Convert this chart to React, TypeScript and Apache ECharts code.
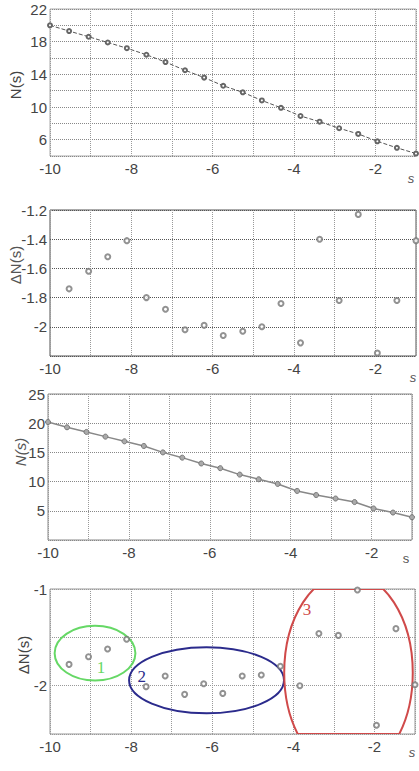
import React, { useEffect, useRef } from 'react';
import * as echarts from 'echarts';

// s positions (20 samples from -10 to -1)
const sAll = [-10, -9.53, -9.05, -8.58, -8.11, -7.63, -7.16, -6.68, -6.21, -5.74, -5.26, -4.79, -4.32, -3.84, -3.37, -2.89, -2.42, -1.95, -1.47, -1.0];
const sDelta = [-9.53, -9.05, -8.58, -8.11, -7.63, -7.16, -6.68, -6.21, -5.74, -5.26, -4.79, -4.32, -3.84, -3.37, -2.89, -2.42, -1.95, -1.47, -1.0];

// Panel 1: N(s)
const n1 = [20.0, 19.3, 18.6, 17.9, 17.2, 16.4, 15.5, 14.5, 13.6, 12.6, 11.8, 10.8, 9.9, 8.9, 8.2, 7.4, 6.7, 5.8, 5.0, 4.3];
// Panel 2: ΔN(s)
const d2 = [-1.74, -1.62, -1.52, -1.41, -1.80, -1.88, -2.02, -1.99, -2.06, -2.03, -2.0, -1.84, -2.11, -1.40, -1.82, -1.23, -2.18, -1.82, -1.41];
// Panel 3: N(s)
const n3 = [20.2, 19.3, 18.5, 17.7, 16.9, 16.1, 15.0, 14.1, 13.1, 12.3, 11.2, 10.4, 9.6, 8.4, 7.7, 7.1, 6.5, 5.4, 4.7, 3.9];
// Panel 4: ΔN(s)
const d4 = [-1.78, -1.70, -1.62, -1.52, -2.01, -1.90, -2.09, -1.98, -2.08, -1.90, -1.89, -1.80, -2.00, -1.46, -1.48, -1.01, -2.41, -1.41, -1.99];

// Cluster ellipses in panel 4 (data units)
const clusterNames = ['1', '2', '3'];
const clusterCx = [-8.89, -6.14, -2.64];
const clusterCy = [-1.664, -1.944, -1.867];
const clusterRx = [0.996, 1.91, 1.585];
const clusterRy = [0.283, 0.342, 1.03];
const clusterLabelX = [-8.74, -7.74, -3.66];
const clusterLabelY = [-1.81, -1.90, -1.215];
const clusterColors = ['#66d866', '#2b2b8c', '#d04a4a'];

const FONT = 'Liberation Sans, Arial, sans-serif';

function xAxisFor(gridIndex: number) {
  return {
    type: 'value',
    gridIndex,
    min: -10,
    max: -1,
    interval: 1,
    axisLine: { show: false },
    axisTick: { show: false },
    axisLabel: {
      margin: 5,
      color: '#444',
      fontSize: 15,
      fontFamily: FONT,
      formatter: (v: number) => {
        const r = Math.round(v);
        return r % 2 === 0 ? String(r) : '';
      },
    },
    splitLine: { show: true, lineStyle: { type: 'dotted', color: '#999', width: 1 } },
  };
}

function yAxisFor(gridIndex: number, min: number, max: number, interval: number, show: (v: number) => boolean, hColor: string) {
  return {
    type: 'value',
    gridIndex,
    min,
    max,
    interval,
    axisLine: { show: false },
    axisTick: { show: false },
    axisLabel: {
      margin: 3,
      color: '#444',
      fontSize: 15,
      fontFamily: FONT,
      formatter: (v: number) => (show(v) ? String(parseFloat(v.toFixed(2))) : ''),
    },
    splitLine: { show: true, lineStyle: { type: 'dotted', color: hColor, width: 1 } },
  };
}

const near = (a: number, b: number) => Math.abs(a - b) < 1e-6;

export default function App() {
  const ref = useRef<HTMLDivElement>(null);
  useEffect(() => {
    const chart = echarts.init(ref.current!, null, { renderer: 'svg' });
    const grids = [
      { left: 50, top: 9, width: 366, height: 147, show: true, borderColor: '#aaa', borderWidth: 1 },
      { left: 50, top: 210, width: 366, height: 146, show: true, borderColor: '#555', borderWidth: 1 },
      { left: 48, top: 394, width: 364, height: 146, show: true, borderColor: '#888', borderWidth: 1 },
      { left: 50, top: 589, width: 365, height: 145, show: true, borderColor: '#999', borderWidth: 1 },
    ];
    const option: any = {
      animation: false,
      backgroundColor: '#ffffff',
      grid: grids,
      xAxis: [xAxisFor(0), xAxisFor(1), xAxisFor(2), xAxisFor(3)],
      yAxis: [
        yAxisFor(0, 4, 22, 2, (v) => near(((v - 6) % 4 + 4) % 4, 0), '#888'),
        yAxisFor(1, -2.2, -1.2, 0.2, (v) => !near(v, -2.2), '#555'),
        yAxisFor(2, 0, 25, 5, (v) => !near(v, 0), '#888'),
        yAxisFor(3, -2.5, -1, 0.5, (v) => near(v, -1) || near(v, -2), '#999'),
      ],
      series: [
        {
          type: 'line',
          xAxisIndex: 0,
          yAxisIndex: 0,
          data: sAll.map((s, i) => [s, n1[i]]),
          symbol: 'emptyCircle',
          symbolSize: 4,
          lineStyle: { color: '#555', width: 1, type: 'dashed' },
          itemStyle: { color: '#666', borderWidth: 1 },
        },
        {
          type: 'scatter',
          xAxisIndex: 1,
          yAxisIndex: 1,
          data: sDelta.map((s, i) => [s, d2[i]]),
          symbol: 'emptyCircle',
          symbolSize: 5,
          itemStyle: { color: '#777', borderWidth: 1 },
        },
        {
          type: 'line',
          xAxisIndex: 2,
          yAxisIndex: 2,
          data: sAll.map((s, i) => [s, n3[i]]),
          symbol: 'circle',
          symbolSize: 5,
          lineStyle: { color: '#888', width: 1.5 },
          itemStyle: { color: '#aaa', borderColor: '#777', borderWidth: 1 },
        },
        {
          type: 'scatter',
          xAxisIndex: 3,
          yAxisIndex: 3,
          data: sDelta.map((s, i) => [s, d4[i]]),
          symbol: 'emptyCircle',
          symbolSize: 5,
          itemStyle: { color: '#777', borderWidth: 1 },
        },
        {
          type: 'custom',
          xAxisIndex: 3,
          yAxisIndex: 3,
          clip: true,
          data: clusterNames.map((n, i) => [clusterCx[i], clusterCy[i], clusterRx[i], clusterRy[i], clusterLabelX[i], clusterLabelY[i], i]),
          renderItem: (params: any, api: any) => {
            const i = api.value(6);
            const c = api.coord([api.value(0), api.value(1)]);
            const sz = api.size([api.value(2), api.value(3)]);
            const lp = api.coord([api.value(4), api.value(5)]);
            const col = clusterColors[i];
            const cs = params.coordSys;
            const children: any[] = [
              {
                type: 'ellipse',
                shape: { cx: c[0], cy: c[1], rx: sz[0], ry: sz[1] },
                style: { fill: 'none', stroke: col, lineWidth: 2 },
              },
              {
                type: 'text',
                x: lp[0],
                y: lp[1],
                style: {
                  text: clusterNames[i],
                  fill: col,
                  font: '17px Liberation Serif, serif',
                  align: 'center',
                  verticalAlign: 'middle',
                },
              },
            ];
            // close the clipped outline along the plot edges
            [cs.y, cs.y + cs.height].forEach((ey: number) => {
              const dy = (ey - c[1]) / sz[1];
              if (Math.abs(dy) < 1) {
                const hw = sz[0] * Math.sqrt(1 - dy * dy);
                children.push({
                  type: 'line',
                  shape: { x1: c[0] - hw, y1: ey, x2: Math.min(c[0] + hw, cs.x + cs.width), y2: ey },
                  style: { stroke: col, lineWidth: 2 },
                });
              }
            });
            return { type: 'group', children };
          },
        },
      ],
      graphic: [
        { type: 'text', x: 15, y: 85, rotation: Math.PI / 2, style: { text: 'N(s)', font: '15px ' + FONT, fill: '#444', align: 'center', verticalAlign: 'middle' } },
        { type: 'text', x: 15, y: 265, rotation: Math.PI / 2, style: { text: 'ΔN(s)', font: '15px ' + FONT, fill: '#555', align: 'center', verticalAlign: 'middle' } },
        { type: 'text', x: 20, y: 452, rotation: Math.PI / 2, style: { text: 'N(s)', font: 'italic 15px ' + FONT, fill: '#555', align: 'center', verticalAlign: 'middle' } },
        { type: 'text', x: 23, y: 655, rotation: Math.PI / 2, style: { text: 'ΔN(s)', font: '15px ' + FONT, fill: '#444', align: 'center', verticalAlign: 'middle' } },
        { type: 'text', x: 411, y: 178, style: { text: 's', font: 'italic 13px ' + FONT, fill: '#555', align: 'center', verticalAlign: 'middle' } },
        { type: 'text', x: 413, y: 377, style: { text: 's', font: 'italic 13px ' + FONT, fill: '#555', align: 'center', verticalAlign: 'middle' } },
        { type: 'text', x: 406, y: 558, style: { text: 's', font: '13px ' + FONT, fill: '#555', align: 'center', verticalAlign: 'middle' } },
        { type: 'text', x: 412, y: 752, style: { text: 's', font: 'italic 13px ' + FONT, fill: '#555', align: 'center', verticalAlign: 'middle' } },
      ],
    };
    chart.setOption(option);
    return () => chart.dispose();
  }, []);
  return <div ref={ref} style={{ position: 'absolute', left: 0, top: 0, width: 419, height: 771 }} />;
}
